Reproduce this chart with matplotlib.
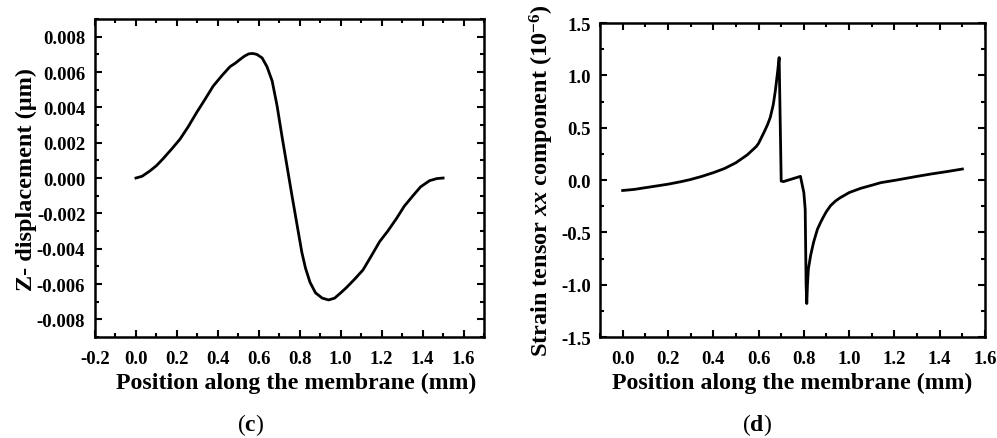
import matplotlib
matplotlib.use("Agg")
import matplotlib.pyplot as plt
from matplotlib.ticker import MultipleLocator, FormatStrFormatter

# ---- data (c): Z-displacement ----
pos_c = [0.0, 0.03, 0.068, 0.10, 0.133, 0.175, 0.215, 0.255, 0.296, 0.337, 0.377, 0.42,
         0.459, 0.485, 0.507, 0.53, 0.551, 0.57, 0.59, 0.616, 0.64, 0.665, 0.689, 0.714,
         0.73, 0.746, 0.762, 0.78, 0.795, 0.81, 0.828, 0.85, 0.877, 0.91, 0.941, 0.97,
         1.0, 1.028, 1.07, 1.109, 1.15, 1.19, 1.23, 1.272, 1.31, 1.353, 1.39, 1.434,
         1.47, 1.5]
zdisp = [0.0, 0.0001, 0.0004, 0.0007, 0.0011, 0.00165, 0.0022, 0.0029, 0.0037, 0.00445, 0.0052, 0.0058,
         0.0063, 0.0065, 0.0067, 0.0069, 0.00703, 0.00705, 0.0070, 0.0068, 0.0063, 0.0055, 0.0041, 0.0023,
         0.0012, 0.0001, -0.0010, -0.0022, -0.0032, -0.0042, -0.0051, -0.0059, -0.0065, -0.0068, -0.0069, -0.0068,
         -0.0065, -0.0062, -0.0057, -0.0052, -0.0044, -0.0036, -0.0030, -0.0023, -0.0016, -0.0010, -0.0005, -0.00015,
         -0.00003, 0.0]

# ---- data (d): strain tensor xx ----
pos_d = [0.0, 0.05, 0.11, 0.2, 0.257, 0.3, 0.35, 0.40, 0.45, 0.50, 0.55, 0.59, 0.60, 0.624,
         0.64, 0.652, 0.665, 0.674, 0.684, 0.691, 0.700, 0.71, 0.785, 0.80, 0.806, 0.810,
         0.813, 0.816, 0.82, 0.83, 0.843, 0.86, 0.875, 0.887, 0.90, 0.918, 0.94, 0.96,
         0.98, 1.0, 1.05, 1.1, 1.14, 1.21, 1.3, 1.36, 1.43, 1.5]
strain = [-0.10, -0.09, -0.07, -0.04, -0.016, 0.005, 0.035, 0.07, 0.11, 0.165, 0.24, 0.32, 0.35, 0.455,
          0.53, 0.60, 0.72, 0.85, 1.03, 1.17, -0.01, -0.015, 0.035, -0.12, -0.28, -1.0,
          -1.18, -1.0, -0.85, -0.72, -0.595, -0.47, -0.40, -0.35, -0.30, -0.245, -0.20, -0.17,
          -0.145, -0.12, -0.08, -0.05, -0.025, 0.0, 0.035, 0.057, 0.08, 0.105]

xlabel = "Position along the membrane (mm)"
ylabel_c = "Z- displacement (\u03bcm)"
ylabel_d = r"Strain tensor $\mathit{xx}$ component (10$^{-6}$)"

plt.rcParams['font.family'] = ['Liberation Serif', 'DejaVu Serif']
plt.rcParams['font.weight'] = 'bold'
plt.rcParams['mathtext.fontset'] = 'custom'
plt.rcParams['mathtext.rm'] = 'Liberation Serif:bold'
plt.rcParams['mathtext.it'] = 'Liberation Serif:bold:italic'
plt.rcParams['mathtext.bf'] = 'Liberation Serif:bold'
plt.rcParams['axes.unicode_minus'] = False

fig = plt.figure(figsize=(9.97, 4.39), dpi=100)
axc = fig.add_axes([0.0953, 0.230, 0.3902, 0.7244])
axd = fig.add_axes([0.6018, 0.230, 0.3862, 0.7153])

def style(ax, ypad):
    for s in ax.spines.values():
        s.set_linewidth(1.8)
    ax.tick_params(which='both', direction='in', top=True, right=True, width=1.5, labelsize=13.5)
    ax.tick_params(which='major', length=5)
    ax.tick_params(which='minor', length=3)
    ax.tick_params(axis='x', which='major', pad=9)
    ax.tick_params(axis='y', which='major', pad=ypad)
    for lab in ax.get_xticklabels() + ax.get_yticklabels():
        lab.set_fontweight('bold')

axc.plot(pos_c, zdisp, color='black', lw=2.0, solid_joinstyle='round')
axc.set_xlim(-0.2, 1.7)
axc.set_ylim(-0.009, 0.009)
axc.xaxis.set_major_locator(MultipleLocator(0.2))
axc.xaxis.set_minor_locator(MultipleLocator(0.1))
axc.yaxis.set_major_locator(MultipleLocator(0.002))
axc.yaxis.set_minor_locator(MultipleLocator(0.001))
axc.xaxis.set_major_formatter(FormatStrFormatter('%.1f'))
axc.yaxis.set_major_formatter(FormatStrFormatter('%.3f'))
style(axc, 7)
axc.set_xlabel(xlabel, fontsize=17.2, fontweight='bold', labelpad=4)
axc.xaxis.label.set_x(0.517)
axc.set_ylabel(ylabel_c, fontsize=17.5, fontweight='bold', labelpad=-0.5)

axd.plot(pos_d, strain, color='black', lw=2.0, solid_joinstyle='round')
axd.set_xlim(-0.1, 1.6)
axd.set_ylim(-1.5, 1.5)
axd.xaxis.set_major_locator(MultipleLocator(0.2))
axd.xaxis.set_minor_locator(MultipleLocator(0.1))
axd.yaxis.set_major_locator(MultipleLocator(0.5))
axd.yaxis.set_minor_locator(MultipleLocator(0.25))
axd.xaxis.set_major_formatter(FormatStrFormatter('%.1f'))
axd.yaxis.set_major_formatter(FormatStrFormatter('%.1f'))
style(axd, 6.5)
axd.set_xlabel(xlabel, fontsize=17.2, fontweight='bold', labelpad=4)
axd.set_ylabel(ylabel_d, fontsize=17.5, fontweight='bold', labelpad=4)

fig.text(251/997, 1 - 425/439, r"($\mathbf{c}$)", fontsize=17, fontweight='normal', ha='center', va='center')
fig.text(757/997, 1 - 425/439, r"($\mathbf{d}$)", fontsize=17, fontweight='normal', ha='center', va='center')

fig.savefig("out.png", dpi=100)
